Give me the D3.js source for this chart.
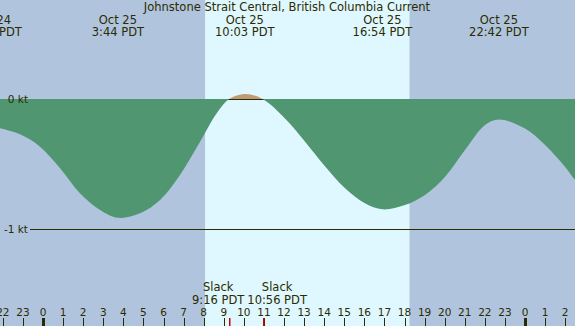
<!DOCTYPE html>
<meta charset="utf-8" />
<style>
  body {
    margin: 0px;
    background: #b0c4de;
  }

  text {
    font-family: "DejaVu Sans", sans-serif;
    fill: #2b2b00;
  }

  .title,
  .event {
    font-size: 11.5px;
  }

  .hour {
    font-size: 10.5px;
  }
</style>
<body>
<script src="https://d3js.org/d3.v7.min.js"></script>
<script>
  var width = 575,
    height = 326;

  // hours after Oct 25 00:00 PDT, current speed in knots (negative = ebb)
  var hours = [
    -3.5, -2.54, -2.14, -1.15, -0.15, 0.85, 1.84, 2.84, 3.73, 4.83, 5.83, 6.82,
    7.82, 8.65, 9.27, 10.05, 10.93, 12.05, 13.05, 14.04, 15.04, 16.03, 16.9,
    18.02, 19.02, 20.02, 21.01, 22.01, 22.7, 24, 25, 25.99, 26.49, 27.2,
  ];
  var knots = [
    -0.235, -0.212, -0.226, -0.273, -0.368, -0.535, -0.728, -0.857, -0.917,
    -0.883, -0.78, -0.587, -0.33, -0.11, 0, 0.039, 0, -0.15, -0.33, -0.52,
    -0.69, -0.805, -0.852, -0.819, -0.741, -0.6, -0.394, -0.201, -0.158, -0.228,
    -0.355, -0.523, -0.625, -0.74,
  ];

  // max / min current events shown along the top
  var eventHours = [-2.54, 3.73, 10.05, 16.9, 22.7];
  var eventDays = ["Oct 24", "Oct 25", "Oct 25", "Oct 25", "Oct 25"];
  var eventTimes = ["21:28 PDT", "3:44 PDT", "10:03 PDT", "16:54 PDT", "22:42 PDT"];

  // slack water events shown along the bottom
  var slackHours = [9.27, 10.93];
  var slackTimes = ["9:16 PDT", "10:56 PDT"];

  var sunrise = 8.07,
    sunset = 18.25;

  var tickHours = d3.range(-2, 27);
  var levels = [0, -1];

  var x = d3.scaleLinear().domain([0, 24]).range([43, 525]);
  var y = d3.scaleLinear().domain([0, -1]).range([99, 228.5]);

  var data = hours.map(function (h, i) {
    return { h: h, v: knots[i] };
  });

  var svg = d3
    .select("body")
    .append("svg")
    .attr("width", width)
    .attr("height", height)
    .style("display", "block");

  var defs = svg.append("defs");
  defs
    .append("clipPath")
    .attr("id", "below")
    .append("rect")
    .attr("x", 0)
    .attr("y", y(0))
    .attr("width", width)
    .attr("height", height);
  defs
    .append("clipPath")
    .attr("id", "above")
    .append("rect")
    .attr("x", 0)
    .attr("y", 0)
    .attr("width", width)
    .attr("height", y(0));

  svg
    .append("rect")
    .attr("width", width)
    .attr("height", height)
    .attr("fill", "#b0c4de");

  svg
    .append("rect")
    .attr("x", x(sunrise))
    .attr("y", 0)
    .attr("width", x(sunset) - x(sunrise))
    .attr("height", height)
    .attr("fill", "#dff7ff");

  // level lines
  svg
    .selectAll(".level")
    .data(levels)
    .enter()
    .append("line")
    .attr("x1", 30)
    .attr("x2", width)
    .attr("y1", function (d) {
      return Math.round(y(d)) + 0.5;
    })
    .attr("y2", function (d) {
      return Math.round(y(d)) + 0.5;
    })
    .attr("stroke", "#2b2b00")
    .attr("stroke-width", 1);

  var area = d3
    .area()
    .curve(d3.curveCatmullRom.alpha(0.5))
    .x(function (d) {
      return x(d.h);
    })
    .y0(y(0))
    .y1(function (d) {
      return y(d.v);
    });

  svg
    .append("path")
    .datum(data)
    .attr("d", area)
    .attr("clip-path", "url(#below)")
    .attr("fill", "#509670");
  svg
    .append("path")
    .datum(data)
    .attr("d", area)
    .attr("clip-path", "url(#above)")
    .attr("fill", "#bf9a72");

  // zero line under the flood
  svg
    .append("line")
    .attr("x1", x(slackHours[0]))
    .attr("x2", x(slackHours[1]))
    .attr("y1", y(0) + 0.5)
    .attr("y2", y(0) + 0.5)
    .attr("stroke", "#2b2b00");

  svg
    .selectAll(".level-label")
    .data(levels)
    .enter()
    .append("text")
    .attr("class", "hour")
    .attr("x", 28)
    .attr("y", function (d) {
      return y(d) + 4;
    })
    .attr("text-anchor", "end")
    .text(function (d) {
      return d + " kt";
    });

  // title and events
  svg
    .append("text")
    .attr("class", "title")
    .attr("x", 287)
    .attr("y", 11)
    .attr("text-anchor", "middle")
    .text("Johnstone Strait Central, British Columbia Current");

  var ev = svg
    .selectAll(".ev")
    .data(eventHours)
    .enter()
    .append("text")
    .attr("class", "event")
    .attr("text-anchor", "middle");
  ev.append("tspan")
    .attr("y", 23.5)
    .attr("x", function (d) {
      return x(d);
    })
    .text(function (d, i) {
      return eventDays[i];
    });
  ev.append("tspan")
    .attr("y", 36)
    .attr("x", function (d) {
      return x(d);
    })
    .text(function (d, i) {
      return eventTimes[i];
    });

  // hour ticks
  svg
    .selectAll(".tick")
    .data(tickHours)
    .enter()
    .append("rect")
    .attr("x", function (d) {
      var w = d % 24 === 0 ? 3 : 1;
      return Math.round(x(d)) - Math.floor(w / 2);
    })
    .attr("y", 318)
    .attr("width", function (d) {
      return d % 24 === 0 ? 3 : 1;
    })
    .attr("height", 8)
    .attr("fill", "#2b2b00");

  svg
    .selectAll(".hour-label")
    .data(tickHours)
    .enter()
    .append("text")
    .attr("class", "hour")
    .attr("text-anchor", "middle")
    .attr("x", function (d) {
      return x(d);
    })
    .attr("y", 315.5)
    .text(function (d) {
      return ((d % 24) + 24) % 24;
    });

  // slack ticks
  svg
    .selectAll(".slack-tick")
    .data(slackHours)
    .enter()
    .append("rect")
    .attr("x", function (d) {
      return Math.round(x(d));
    })
    .attr("y", 318)
    .attr("width", 1.5)
    .attr("height", 8)
    .attr("fill", "#d00000");

  var sl = svg
    .selectAll(".slack")
    .data(slackHours)
    .enter()
    .append("text")
    .attr("class", "event")
    .attr("text-anchor", "middle");
  sl.append("tspan")
    .attr("y", 291)
    .attr("x", function (d) {
      return x(d);
    })
    .text("Slack");
  sl.append("tspan")
    .attr("y", 303.5)
    .attr("x", function (d) {
      return x(d);
    })
    .text(function (d, i) {
      return slackTimes[i];
    });

  // push overlapping slack labels apart
  var centers = slackHours.map(function (d) {
    return x(d);
  });
  var widths = [];
  sl.each(function () {
    widths.push(this.getBBox().width);
  });
  var need = (widths[0] + widths[1]) / 2 + 2;
  if (centers[1] - centers[0] < need) {
    var mid = (centers[0] + centers[1]) / 2;
    centers[0] = mid - 1 - widths[0] / 2;
    centers[1] = mid + 1 + widths[1] / 2;
  }
  sl.each(function (d, i) {
    d3.select(this).selectAll("tspan").attr("x", centers[i]);
  });
</script>
</body>
